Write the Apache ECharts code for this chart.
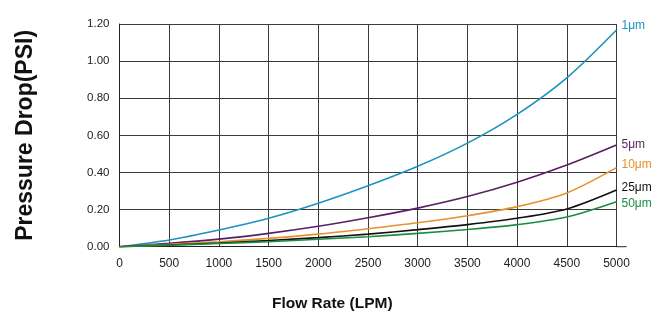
<!DOCTYPE html>
<html><head><meta charset="utf-8">
<script src="https://cdn.jsdelivr.net/npm/echarts@6/dist/echarts.min.js"></script>
<style>html,body{margin:0;padding:0;background:#fff}#c{width:667px;height:327px}</style>
</head><body><div id="c"></div>
<script>
const flow = [0, 500, 1000, 1500, 2000, 2500, 3000, 3500, 4000, 4500, 5000];
const um1  = [0, 0.036, 0.090, 0.153, 0.234, 0.328, 0.433, 0.558, 0.713, 0.910, 1.168];
const um5  = [0, 0.018, 0.041, 0.072, 0.110, 0.156, 0.208, 0.270, 0.347, 0.440, 0.548];
const um10 = [0, 0.013, 0.027, 0.045, 0.068, 0.097, 0.129, 0.167, 0.216, 0.290, 0.426];
const um25 = [0, 0.009, 0.020, 0.033, 0.049, 0.068, 0.092, 0.119, 0.153, 0.203, 0.305];
const um50 = [0, 0.008, 0.017, 0.027, 0.040, 0.054, 0.072, 0.093, 0.119, 0.160, 0.242];
const names = ['1μm', '5μm', '10μm', '25μm', '50μm'];
const colors = ['#1b93c0', '#5b1d63', '#e8902e', '#111111', '#1b8c40'];
const labelOffsets = [[2, -4], [2, 0], [2, -3], [2, -2], [2, 2]];
const allData = [um1, um5, um10, um25, um50];
const FONT = 'Liberation Sans, Arial, sans-serif';

const chart = echarts.init(document.getElementById('c'), null, {renderer: 'canvas'});
const series = allData.map((vals, i) => ({
  name: names[i],
  type: 'line',
  smooth: 0.3,
  symbol: 'none',
  data: flow.map((f, j) => [f, vals[j]]),
  lineStyle: {color: colors[i], width: 1.6},
  endLabel: {
    show: true,
    formatter: names[i],
    color: colors[i],
    fontFamily: FONT,
    fontSize: 12,
    distance: 3,
    offset: labelOffsets[i]
  },
  z: 3
}));

chart.setOption({
  animation: false,
  grid: {left: 119.5, right: 50.5, top: 24, bottom: 80.3, containLabel: false},
  xAxis: {
    type: 'value', min: 0, max: 5000, interval: 500,
    axisLine: {show: true, lineStyle: {color: '#222', width: 1}},
    axisTick: {show: false},
    axisLabel: {color: '#222', fontSize: 12, fontFamily: FONT, margin: 11,
      formatter: v => String(v)},
    splitLine: {show: true, lineStyle: {color: '#3a3a3a', width: 1}}
  },
  yAxis: {
    type: 'value', min: 0, max: 1.2, interval: 0.2,
    axisLine: {show: true, lineStyle: {color: '#222', width: 1}},
    axisTick: {show: false},
    axisLabel: {color: '#222', fontSize: 11.5, fontFamily: FONT, margin: 10,
      formatter: v => v.toFixed(2)},
    splitLine: {show: true, lineStyle: {color: '#3a3a3a', width: 1}},
    name: 'Pressure Drop(PSI)', nameLocation: 'middle', nameGap: 82, nameRotate: 90,
    nameTextStyle: {color: '#111', fontSize: 23, fontWeight: 'bold', fontFamily: FONT}
  },
  series: series
});

const origin = chart.convertToPixel({gridIndex: 0}, [5000, 0]);
chart.setOption({
  graphic: [
    {type: 'line', shape: {x1: origin[0], y1: origin[1], x2: origin[0] + 10, y2: origin[1]},
     style: {stroke: '#222', lineWidth: 1}},
    {type: 'text', left: 272, top: 296,
     style: {text: 'Flow Rate (LPM)', fill: '#111', fontSize: 15.5, fontWeight: 'bold', fontFamily: FONT}}
  ]
});
</script></body></html>
